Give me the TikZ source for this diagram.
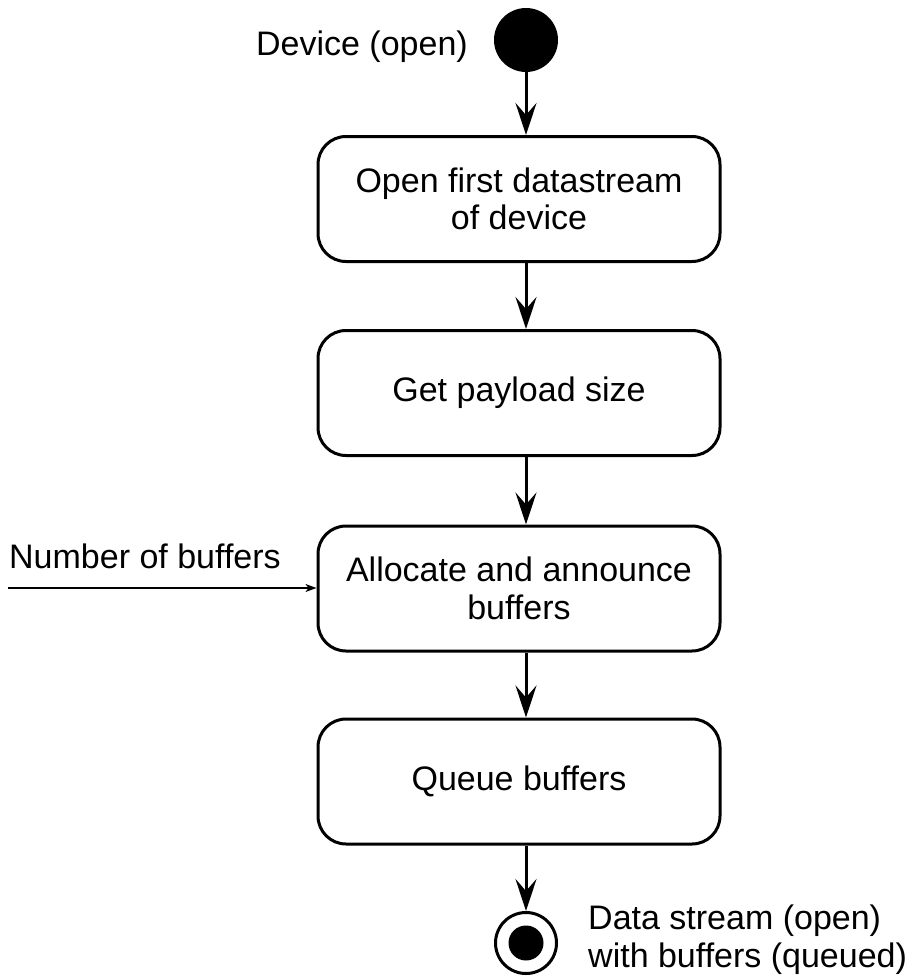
\documentclass[tikz,border=0pt]{standalone}
\usepackage{fontspec}
\setmainfont{Liberation Sans}
\usetikzlibrary{arrows.meta}

\begin{document}
\begin{tikzpicture}[x=1pt,y=-1pt,
  every node/.style={font=\fontsize{34}{37.5}\selectfont},
  actbox/.style={draw, line width=3pt, rounded corners=28pt,
    minimum width=402pt, minimum height=125pt, align=center, inner sep=0pt},
  flow/.style={line width=3pt,
    -{Stealth[length=32pt,width=21pt,inset=12pt]}},
  inflow/.style={line width=1.4pt,
    -{Stealth[length=11pt,width=8pt,inset=3pt]}},
  label/.style={inner sep=0pt, align=left}]
  \useasboundingbox (0,0) rectangle (911,980);

  % initial state
  \node[circle, fill, minimum size=64pt, inner sep=0pt] (start) at (526,40) {};
  \node[label, anchor=base east] (startlbl) at (468,55) {Device (open)};

  % activities
  \node[actbox] (b1) at (519,199) {Open first datastream\\of device};
  \node[actbox] (b2) at (519,393) {Get payload size};
  \node[actbox] (b3) at (519,588.5) {Allocate and announce\\buffers};
  \node[actbox] (b4) at (519,781.5) {Queue buffers};

  % final state
  \node[circle, draw, line width=3pt, minimum size=61pt, inner sep=0pt] (end) at (526,943) {};
  \node[circle, fill, minimum size=35pt, inner sep=0pt] (endcore) at (end) {};
  \node[label, anchor=base west] (endlbl) at (588,967) {Data stream (open)\\with buffers (queued)};

  % control flow
  \draw[flow] (start.south) -- (start.south |- b1.north);
  \draw[flow] (b1.south -| start) -- (b2.north -| start);
  \draw[flow] (b2.south -| start) -- (b3.north -| start);
  \draw[flow] (b3.south -| start) -- (b4.north -| start);
  \draw[flow] (b4.south -| start) -- (end.north);

  % input parameter
  \coordinate (nbsrc) at (8,588);
  \node[label, anchor=base west] (nblbl) at (9,568) {Number of buffers};
  \draw[inflow] (nbsrc) -- (nbsrc -| b3.west);
\end{tikzpicture}
\end{document}
